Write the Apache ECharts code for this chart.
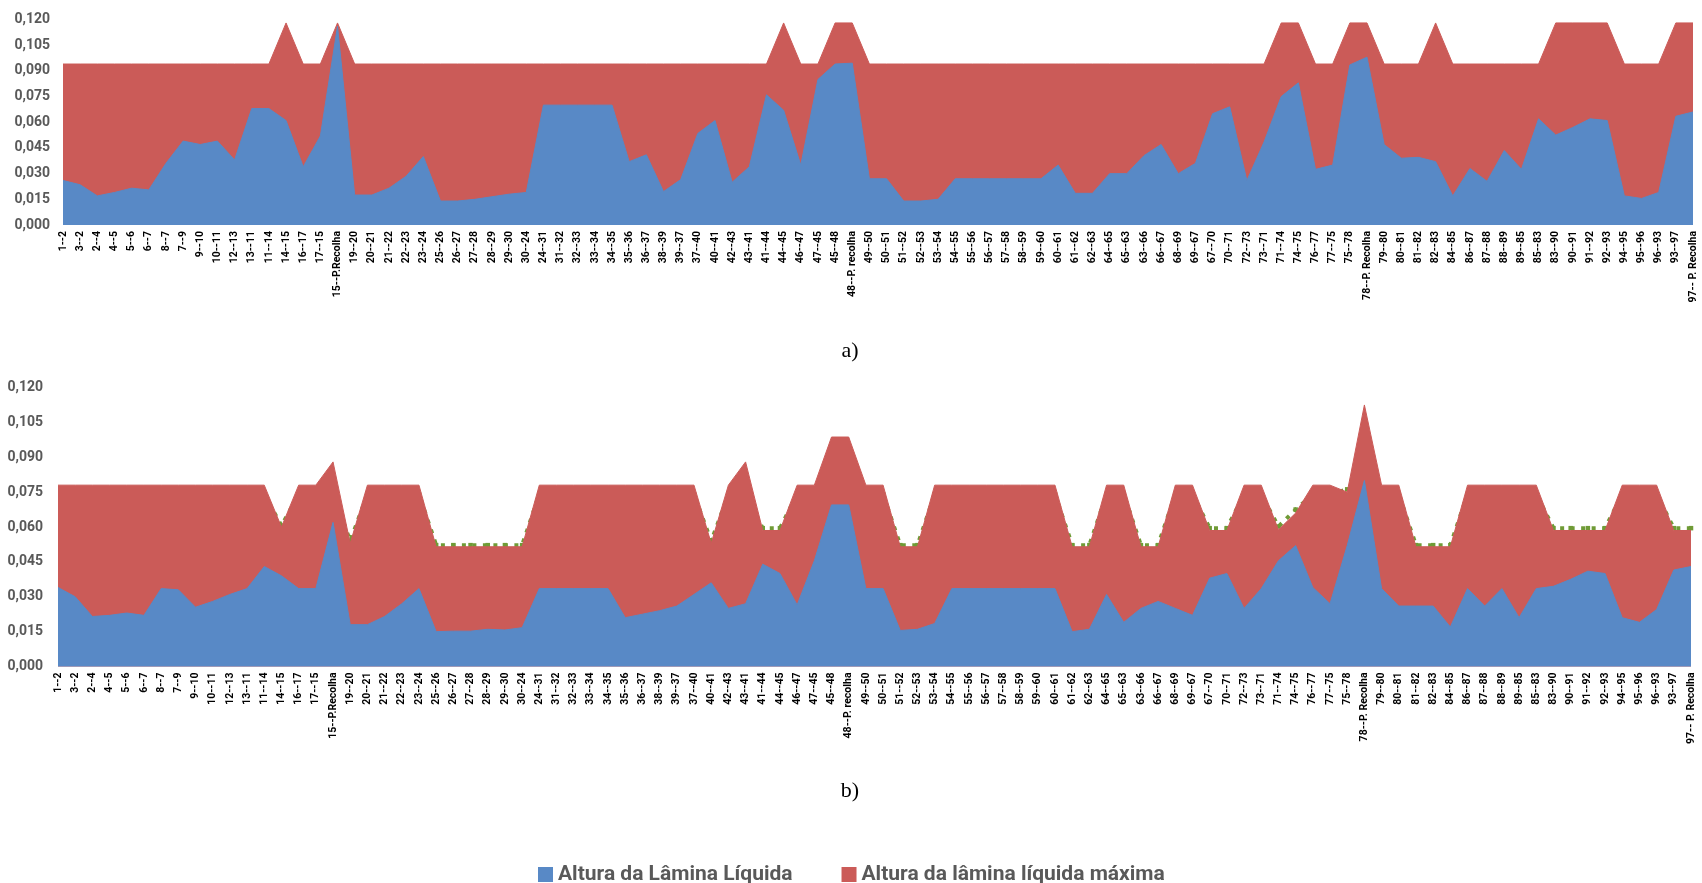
<!DOCTYPE html>
<html><head><meta charset="utf-8">
<script src="https://cdn.jsdelivr.net/npm/echarts@6/dist/echarts.min.js"></script>
<style>html,body{margin:0;padding:0;background:#fff}#c{width:1702px;height:883px}</style>
</head><body><div id="c"></div>
<script>
const categories = ['1--2','3--2','2--4','4--5','5--6','6--7','8--7','7--9','9--10','10--11','12--13','13--11','11--14','14--15','16--17','17--15','15--P.Recolha','19--20','20--21','21--22','22--23','23--24','25--26','26--27','27--28','28--29','29--30','30--24','24--31','31--32','32--33','33--34','34--35','35--36','36--37','38--39','39--37','37--40','40--41','42--43','43--41','41--44','44--45','46--47','47--45','45--48','48--P. recolha','49--50','50--51','51--52','52--53','53--54','54--55','55--56','56--57','57--58','58--59','59--60','60--61','61--62','62--63','64--65','65--63','63--66','66--67','68--69','69--67','67--70','70--71','72--73','73--71','71--74','74--75','76--77','77--75','75--78','78--P. Recolha','79--80','80--81','81--82','82--83','84--85','86--87','87--88','88--89','89--85','85--83','83--90','90--91','91--92','92--93','94--95','95--96','96--93','93--97','97-- P. Recolha'];

// a) Altura da Lâmina Líquida
const topLamina = [0.026,0.0235,0.017,0.019,0.0215,0.0205,0.036,0.049,0.047,0.049,0.038,0.068,0.068,0.061,0.034,0.052,0.116,0.0175,0.0175,0.0215,0.0285,0.040,0.014,0.014,0.015,0.0165,0.018,0.019,0.070,0.070,0.070,0.070,0.070,0.037,0.041,0.0195,0.0265,0.0535,0.061,0.025,0.034,0.076,0.067,0.035,0.085,0.094,0.0945,0.027,0.027,0.014,0.014,0.015,0.027,0.027,0.027,0.027,0.027,0.027,0.035,0.0185,0.0185,0.030,0.030,0.0405,0.047,0.030,0.036,0.065,0.069,0.026,0.0485,0.075,0.083,0.0325,0.035,0.0935,0.098,0.047,0.039,0.0395,0.037,0.017,0.033,0.0255,0.0435,0.0325,0.062,0.0525,0.057,0.062,0.061,0.017,0.0155,0.019,0.0635,0.066];
// a) Altura da lâmina líquida máxima
const topMax = [0.094,0.094,0.094,0.094,0.094,0.094,0.094,0.094,0.094,0.094,0.094,0.094,0.094,0.118,0.094,0.094,0.118,0.094,0.094,0.094,0.094,0.094,0.094,0.094,0.094,0.094,0.094,0.094,0.094,0.094,0.094,0.094,0.094,0.094,0.094,0.094,0.094,0.094,0.094,0.094,0.094,0.094,0.118,0.094,0.094,0.118,0.118,0.094,0.094,0.094,0.094,0.094,0.094,0.094,0.094,0.094,0.094,0.094,0.094,0.094,0.094,0.094,0.094,0.094,0.094,0.094,0.094,0.094,0.094,0.094,0.094,0.118,0.118,0.094,0.094,0.118,0.118,0.094,0.094,0.094,0.118,0.094,0.094,0.094,0.094,0.094,0.094,0.118,0.118,0.118,0.118,0.094,0.094,0.094,0.118,0.118];

// b) Altura da Lâmina Líquida
const botLamina = [0.034,0.030,0.0215,0.022,0.023,0.022,0.0335,0.033,0.0255,0.028,0.031,0.0335,0.043,0.039,0.0335,0.0335,0.062,0.018,0.018,0.0215,0.027,0.0335,0.015,0.0152,0.0152,0.016,0.0157,0.0167,0.0335,0.0335,0.0335,0.0335,0.0335,0.021,0.0225,0.024,0.026,0.031,0.036,0.025,0.027,0.044,0.040,0.0265,0.0455,0.0695,0.0695,0.0335,0.0335,0.0155,0.016,0.0185,0.0335,0.0335,0.0335,0.0335,0.0335,0.0335,0.0335,0.015,0.016,0.031,0.019,0.025,0.028,0.025,0.022,0.038,0.040,0.025,0.0335,0.0455,0.052,0.034,0.027,0.052,0.080,0.0335,0.026,0.026,0.026,0.017,0.0335,0.026,0.0335,0.021,0.0335,0.0345,0.0375,0.041,0.040,0.021,0.019,0.0245,0.0415,0.043];
// b) Altura da lâmina líquida máxima
const botMax = [0.078,0.078,0.078,0.078,0.078,0.078,0.078,0.078,0.078,0.078,0.078,0.078,0.078,0.060,0.078,0.078,0.088,0.053,0.078,0.078,0.078,0.078,0.0515,0.0515,0.0515,0.0515,0.0515,0.0515,0.078,0.078,0.078,0.078,0.078,0.078,0.078,0.078,0.078,0.078,0.053,0.078,0.088,0.0585,0.0585,0.078,0.078,0.0987,0.0987,0.078,0.078,0.0515,0.0515,0.078,0.078,0.078,0.078,0.078,0.078,0.078,0.078,0.0515,0.0515,0.078,0.078,0.0515,0.0515,0.078,0.078,0.0585,0.0585,0.078,0.078,0.0588,0.066,0.078,0.078,0.075,0.1125,0.078,0.078,0.0515,0.0515,0.0515,0.078,0.078,0.078,0.078,0.078,0.0585,0.0585,0.0585,0.0585,0.078,0.078,0.078,0.0585,0.0585];
// b) green dotted line (only visible where it rises above the red area)
const botGreen = [null,0.074,0.074,0.074,0.074,0.074,0.074,0.074,0.074,0.074,0.074,0.074,0.074,0.0605,0.074,0.074,0.074,0.054,0.074,0.074,0.074,0.074,0.0522,0.0522,0.0522,0.0522,0.0522,0.0522,0.074,0.074,0.074,0.074,0.074,0.074,0.074,0.074,0.074,0.074,0.0538,0.074,0.074,0.0595,0.0595,0.074,0.074,0.074,0.074,0.074,0.074,0.0522,0.0522,0.074,0.074,0.074,0.074,0.074,0.074,0.074,0.074,0.0522,0.0522,0.074,0.074,0.0522,0.0522,0.074,0.074,0.0595,0.0595,0.074,0.074,0.0602,0.0675,0.074,0.074,0.0762,0.074,0.074,0.074,0.0522,0.0522,0.0522,0.074,0.074,0.074,0.074,0.074,0.0595,0.0595,0.0595,0.0595,0.074,0.074,0.074,0.0595,0.0595];

const yMin = 0, yMax = 0.12, yStep = 0.015;
const nameLamina = 'Altura da Lâmina Líquida';
const nameMax = 'Altura da lâmina líquida máxima';

const BLUE = '#5889C6', RED = '#CB5B58', GREEN = '#6F9B36';
const chart = echarts.init(document.getElementById('c'), null, {renderer: 'canvas'});

function xAxis(gi) {
  return {
    type: 'category', gridIndex: gi, data: categories, boundaryGap: false,
    axisLine: {show: false}, axisTick: {show: false}, splitLine: {show: false},
    axisLabel: {interval: 0, rotate: 90, margin: 6, fontFamily: 'Roboto', fontSize: 10.5,
      fontWeight: 'bold', color: '#000'}
  };
}
function yAxis(gi, margin) {
  return {
    type: 'value', gridIndex: gi, min: yMin, max: yMax, interval: yStep,
    axisLine: {show: false}, axisTick: {show: false}, splitLine: {show: false},
    axisLabel: {margin: margin, fontFamily: 'Roboto', fontSize: 14, fontWeight: 'bold', color: '#595959',
      formatter: v => v.toFixed(3).replace('.', ',')}
  };
}
function area(name, data, color, gi) {
  return {
    name: name, type: 'line', xAxisIndex: gi, yAxisIndex: gi, data: data, z: 3,
    symbol: 'none', lineStyle: {width: 1, color: color}, itemStyle: {color: color},
    areaStyle: {color: color, opacity: 1}, silent: true
  };
}

chart.setOption({
  animation: false,
  grid: [
    {left: 63, right: 9, top: 19.5, height: 205.5},
    {left: 58, right: 11, top: 387.5, height: 279}
  ],
  xAxis: [xAxis(0), xAxis(1)],
  yAxis: [yAxis(0, 13), yAxis(1, 15)],
  legend: {
    data: [nameLamina, nameMax], left: 533, top: 859, itemWidth: 15, itemHeight: 15, itemGap: 49,
    icon: 'rect', selectedMode: false,
    textStyle: {fontFamily: 'Roboto', fontSize: 21, fontWeight: 'bold', color: '#595959'}
  },
  graphic: [
    {type: 'text', x: 850, y: 351, style: {text: 'a)', fontFamily: 'Liberation Serif', fontSize: 22, fill: '#000', align: 'center', verticalAlign: 'middle'}},
    {type: 'text', x: 850, y: 791, style: {text: 'b)', fontFamily: 'Liberation Serif', fontSize: 22, fill: '#000', align: 'center', verticalAlign: 'middle'}}
  ],
  series: [
    area(nameMax, topMax, RED, 0),
    area(nameLamina, topLamina, BLUE, 0),
    {
      name: 'linha', type: 'line', xAxisIndex: 1, yAxisIndex: 1, data: botGreen, z: 1,
      symbol: 'rect', symbolSize: 4.5, showSymbol: true, showAllSymbol: true, silent: true,
      itemStyle: {color: GREEN},
      lineStyle: {width: 4, color: GREEN, type: [4, 6.5]}
    },
    area(nameMax, botMax, RED, 1),
    area(nameLamina, botLamina, BLUE, 1)
  ]
});
</script>
</body></html>
